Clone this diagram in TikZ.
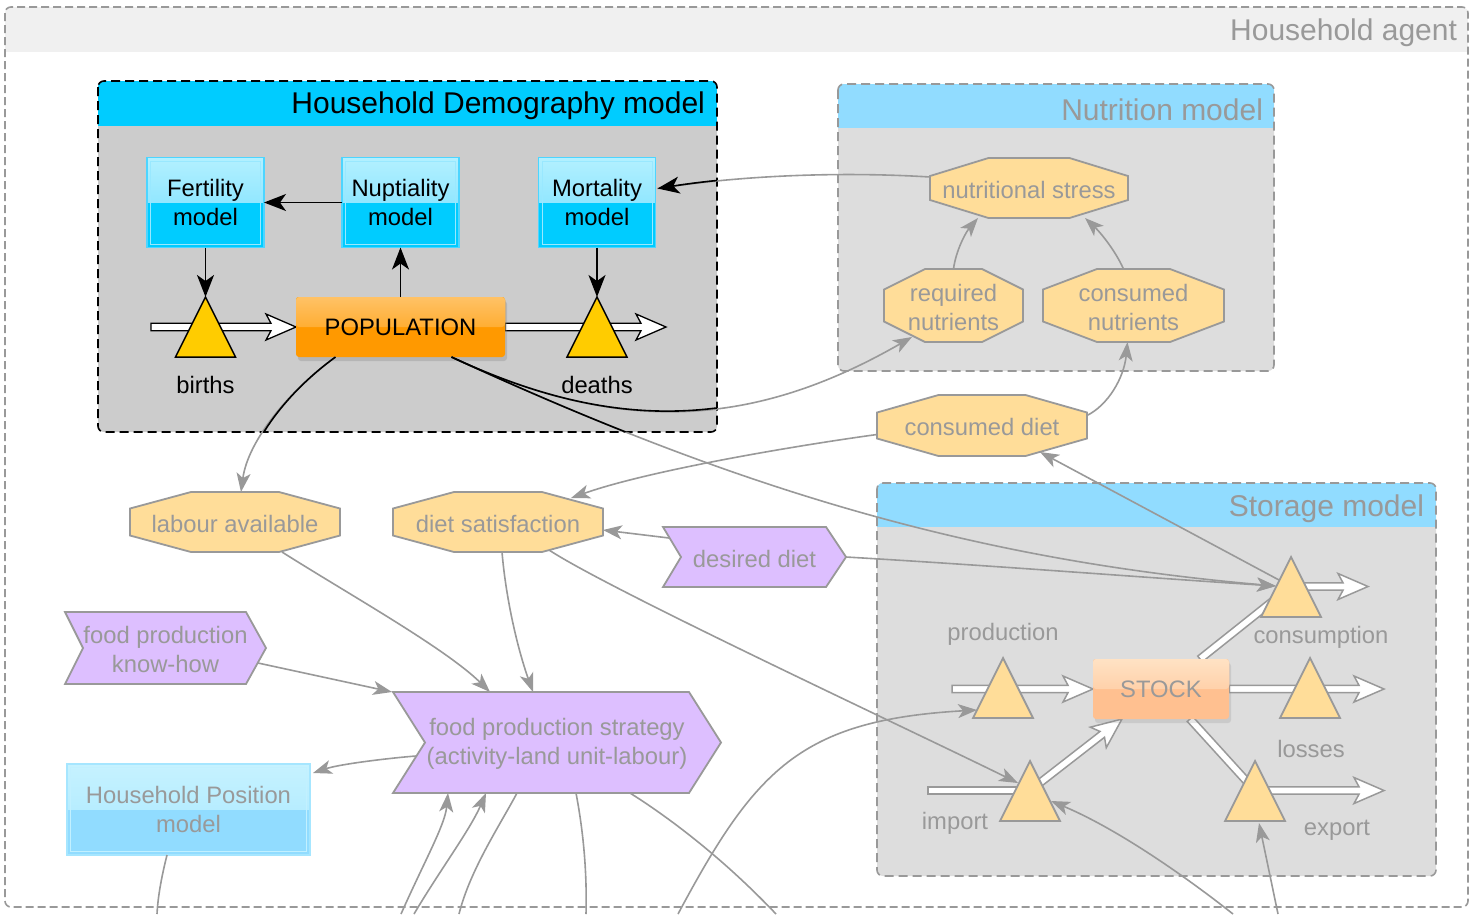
\documentclass[tikz,border=0pt]{standalone}
\usepackage{fontspec}
\setmainfont{Liberation Sans}
\usetikzlibrary{arrows.meta,calc,shadows}
\pgfdeclarelayer{bg}
\pgfdeclarelayer{pipes}
\pgfsetlayers{bg,pipes,main}

\definecolor{fg}{HTML}{999999}
\definecolor{octfill}{HTML}{FFDD99}
\definecolor{purp}{HTML}{DDBFFF}
\definecolor{hdrblue}{HTML}{91DCFF}
\definecolor{bodygray}{HTML}{DDDDDD}
\definecolor{demohdr}{HTML}{00CCFF}
\definecolor{demobody}{HTML}{CCCCCC}
\definecolor{agenthdr}{HTML}{F0F0F0}
\definecolor{cyanA}{HTML}{B3F0FF}
\definecolor{cyanM}{HTML}{70DEFF}
\definecolor{cyanB}{HTML}{00CCFF}
\definecolor{cyanEdge}{HTML}{4DD5FF}
\definecolor{cyanIn}{HTML}{99E8FF}
\definecolor{hpA}{HTML}{C6F2FF}
\definecolor{hpM}{HTML}{A8E8FF}
\definecolor{hpB}{HTML}{91DCFF}
\definecolor{hpEdge}{HTML}{A6E6FF}
\definecolor{hpIn}{HTML}{C2F0FF}
\definecolor{orangeA}{HTML}{FF9900}
\definecolor{orangeHi}{HTML}{FFC266}
\definecolor{peach}{HTML}{FFC090}
\definecolor{peachHi}{HTML}{FFE2C4}
\definecolor{triY}{HTML}{FFCC00}

\tikzset{
  every node/.style={font=\fontsize{23.8pt}{29pt}\selectfont, inner sep=0pt, outer sep=0pt},
  gtext/.style={text=fg, yshift=-1.5pt},
  ttl/.style={font=\fontsize{30pt}{36pt}\selectfont, anchor=east},
  octframe/.style={inner sep=0pt, outer sep=0pt},
  conn/.style={draw=fg, line width=1.6pt, -{Stealth[length=19pt,width=14pt,inset=5pt]}},
  bconn/.style={draw=black, line width=1.6pt, -{Stealth[length=22pt,width=17pt,inset=6pt]}},
  gline/.style={draw=fg, line width=1.6pt},
  bline/.style={draw=black, line width=1.6pt},
  octo/.style={fill=octfill, draw=fg, line width=1.8pt},
  chev/.style={fill=purp, draw=fg, line width=1.8pt},
  bpipe/.style={draw=black, fill=white, line width=1.3pt},
  gpipe/.style={draw=fg, fill=white, line width=1.5pt},
  bvalve/.style={fill=triY, draw=black, line width=1.5pt},
  gvalve/.style={fill=octfill, draw=fg, line width=1.8pt},
  cyanbox/.style={draw=cyanEdge, line width=1.5pt, fill=cyanB, minimum width=117pt, minimum height=90pt, align=center,
    path picture={\fill[top color=cyanA, bottom color=cyanM] (path picture bounding box.north west) rectangle (path picture bounding box.east);
      \draw[cyanIn, line width=1pt] ($(path picture bounding box.north west)+(3.5,3.5)$) rectangle ($(path picture bounding box.south east)+(-3.5,-3.5)$);}},
  hpbox/.style={draw=hpEdge, line width=1.5pt, fill=hpB, text=fg, minimum width=243pt, minimum height=91pt, align=center,
    path picture={\fill[top color=hpA, bottom color=hpM] (path picture bounding box.north west) rectangle (path picture bounding box.east);
      \draw[hpIn, line width=1pt] ($(path picture bounding box.north west)+(3.5,3.5)$) rectangle ($(path picture bounding box.south east)+(-3.5,-3.5)$);}},
  popbox/.style={fill=orangeA, rounded corners=3pt, minimum width=209pt, minimum height=60pt,
    drop shadow={opacity=0.3, shadow xshift=2pt, shadow yshift=-4pt},
    path picture={\fill[top color=orangeHi, bottom color=orangeA] (path picture bounding box.north west) rectangle (path picture bounding box.east);}},
  stockbox/.style={fill=peach, rounded corners=3pt, minimum width=136pt, minimum height=60pt, text=fg,
    drop shadow={opacity=0.2, shadow xshift=2pt, shadow yshift=-4pt},
    path picture={\fill[top color=peachHi, bottom color=peach] (path picture bounding box.north west) rectangle (path picture bounding box.east);}},
}

% octagon drawn round an empty frame node: name, half top edge, half side edge
\newcommand\octag[3]{\draw[octo] ($(#1.north)+(-#2,0)$) -- ($(#1.north)+(#2,0)$) -- ($(#1.east)+(0,-#3)$) -- ($(#1.east)+(0,#3)$) -- ($(#1.south)+(#2,0)$) -- ($(#1.south)+(-#2,0)$) -- ($(#1.west)+(0,#3)$) -- ($(#1.west)+(0,-#3)$) -- cycle;}
% chevron: name, tip depth, notch depth
\newcommand\chevr[3]{\draw[chev] (#1.north west) -- ($(#1.north east)+(-#2,0)$) -- (#1.east) -- ($(#1.south east)+(-#2,0)$) -- (#1.south west) -- ($(#1.west)+(#3,0)$) -- cycle;}
% valve triangle: name, apex x, apex y, style
\newcommand\valve[4]{\coordinate (#1) at (#2,#3); \draw[#4] (#1) -- ++(30,60) -- ++(-60,0) -- cycle;}
% flow pipes
\newcommand\pipegeom[2]{\path let \p1=(#1), \p2=(#2), \n1={atan2(\y2-\y1,\x2-\x1)}, \n2={veclen(\x2-\x1,\y2-\y1)} in
  \pgfextra{\xdef\pipeang{\n1}\xdef\pipelen{\n2}\xdef\pipex{\x1}\xdef\pipey{\y1}};}
\newcommand\fpipe[3]{\pipegeom{#2}{#3}%
  \path[#1, shift={(\pipex,\pipey)}, rotate=\pipeang]
   (0pt,3.7pt) -- ({\pipelen-25pt},3.7pt) -- ({\pipelen-30pt},13pt) -- ({\pipelen+0pt},0pt) -- ({\pipelen-30pt},-13pt) -- ({\pipelen-25pt},-3.7pt) -- (0pt,-3.7pt) -- cycle;}
\newcommand\fshaft[3]{\pipegeom{#2}{#3}%
  \path[#1, shift={(\pipex,\pipey)}, rotate=\pipeang]
   (0pt,3.7pt) -- ({\pipelen+0pt},3.7pt) -- ({\pipelen+0pt},-3.7pt) -- (0pt,-3.7pt) -- cycle;}
% connectors that cross the demography panel
\newcommand\cNsMort[1]{\draw[#1] ($(ns.west)+(0,-11)$) .. controls (850,172) and (750,174) .. ($(mort.east)+(2,-14)$);}
\newcommand\cPopLab[1]{\draw[#1] ($(pop.south)+(-65,0)$) .. controls (290,390) and (248,440) .. ($(lab.north)+(6,0)$);}
\newcommand\cPopRn[1]{\draw[#1] ($(pop.south)+(51,0)$) .. controls (618,435) and (752,429) .. ($(rn.south)+(-41.5,-5)$);}
\newcommand\cPopCons[1]{\draw[#1] ($(pop.south)+(51,0)$) .. controls (740,490) and (975,560) .. ($(consV)+(-15,29)$);}

\begin{document}
\begin{tikzpicture}[x=1pt,y=-1pt]
\useasboundingbox (0,0) rectangle (1473,914);

% ---------- panels ----------
\begin{pgfonlayer}{bg}
 \fill[white] (0,0) rectangle (1473,914);
 \begin{scope}\clip[rounded corners=6pt] (5,7) rectangle (1468,907); \fill[agenthdr] (5,7) rectangle (1468,52); \end{scope}
 \draw[fg, line width=1.6pt, dash pattern=on 8pt off 4pt, rounded corners=6pt] (5,7) rectangle (1468,907);
 % demography
 \fill[demobody, rounded corners=6pt] (98,81) rectangle (717,432);
 \begin{scope}\clip[rounded corners=6pt] (98,81) rectangle (717,432); \fill[demohdr] (98,81) rectangle (717,126); \end{scope}
 \draw[black, line width=1.6pt, dash pattern=on 9pt off 5pt, rounded corners=6pt] (98,81) rectangle (717,432);
 % nutrition
 \fill[bodygray, rounded corners=6pt] (838,84) rectangle (1274,371);
 \begin{scope}\clip[rounded corners=6pt] (838,84) rectangle (1274,371); \fill[hdrblue] (838,84) rectangle (1274,128); \end{scope}
 \draw[fg, line width=1.6pt, dash pattern=on 9pt off 5pt, rounded corners=6pt] (838,84) rectangle (1274,371);
 % storage
 \fill[bodygray, rounded corners=6pt] (877,483) rectangle (1436,876);
 \begin{scope}\clip[rounded corners=6pt] (877,483) rectangle (1436,876); \fill[hdrblue] (877,483) rectangle (1436,527); \end{scope}
 \draw[fg, line width=1.6pt, dash pattern=on 9pt off 5pt, rounded corners=6pt] (877,483) rectangle (1436,876);
\end{pgfonlayer}

% ---------- titles ----------
\node[ttl, text=fg] (tAgent) at (1457,33) {Household agent};
\node[ttl] (tDemo) at (705,106) {Household Demography model};
\node[ttl, text=fg] (tNut) at (1263,110) {Nutrition model};
\node[ttl, text=fg] (tSto) at (1424,509) {Storage model};

% ---------- demography ----------
\node[cyanbox] (fert) at (205.5,202.5) {Fertility\\model};
\node[cyanbox] (nupt) at (400.5,202.5) {Nuptiality\\model};
\node[cyanbox] (mort) at (597,202.5) {Mortality\\model};
\node[popbox] (pop) at (400.5,327) {POPULATION};
\valve{birthsV}{205.5}{297}{bvalve}
\valve{deathsV}{597}{297}{bvalve}
\node (lBirths) at (205.5,385) {births};
\node (lDeaths) at (597,385) {deaths};

% ---------- nutrition ----------
\node[octframe, minimum width=198pt, minimum height=60pt] (ns) at (1029,188) {};
\octag{ns}{40.5}{12}
\node[gtext] (ns-t) at (ns) {nutritional stress};
\node[octframe, minimum width=139pt, minimum height=73pt] (rn) at (953.5,305.5) {};
\octag{rn}{28.5}{16}
\node[gtext, align=center] (rn-t) at (rn) {required\\nutrients};
\node[octframe, minimum width=181pt, minimum height=73pt] (cn) at (1133.5,305.5) {};
\octag{cn}{36.5}{16}
\node[gtext, align=center] (cn-t) at (cn) {consumed\\nutrients};

% ---------- middle ----------
\node[octframe, minimum width=210pt, minimum height=61pt] (cd) at (982,425.5) {};
\octag{cd}{43.5}{13}
\node[gtext] (cd-t) at (cd) {consumed diet};
\node[octframe, minimum width=210pt, minimum height=60pt] (ds) at (498,522) {};
\octag{ds}{44}{13.5}
\node[gtext] (ds-t) at (ds) {diet satisfaction};
\node[octframe, minimum width=210pt, minimum height=60pt] (lab) at (235,522) {};
\octag{lab}{44}{13.5}
\node[gtext] (lab-t) at (lab) {labour available};
\node[octframe, minimum width=183pt, minimum height=60pt] (dd) at (754.5,557) {};
\chevr{dd}{20}{18}
\node[gtext] (dd-t) at (dd) {desired diet};
\node[octframe, minimum width=201pt, minimum height=72pt] (kh) at (165.5,648) {};
\chevr{kh}{20}{18}
\node[gtext, align=center] (kh-t) at (kh) {food production\\know-how};
\node[octframe, minimum width=328pt, minimum height=101pt] (fps) at (557,742.5) {};
\chevr{fps}{32}{32}
\node[gtext, align=center] (fps-t) at (fps) {food production strategy\\(activity-land unit-labour)};
\node[hpbox] (hp) at (188.5,809.5) {Household Position\\model};

% ---------- storage ----------
\node[stockbox] (stock) at (1161,689) {STOCK};
\valve{prodV}{1003}{658}{gvalve}
\valve{lossV}{1310}{658}{gvalve}
\valve{impV}{1030}{761}{gvalve}
\valve{expV}{1255}{761}{gvalve}
\valve{consV}{1291}{557}{gvalve}
\node[gtext] (lProd) at (1003,633) {production};
\node[gtext] (lCons) at (1321,636) {consumption};
\node[gtext] (lLoss) at (1311,747) {losses};
\node[gtext] (lImp) at (955,822) {import};
\node[gtext] (lExp) at (1337,829) {export};

% ---------- pipe end points ----------
\coordinate (bIn) at (151,327);
\coordinate (dOut) at (666,327);
\coordinate (pIn) at (952,689);
\coordinate (lOut) at (1384,689);
\coordinate (iIn) at (928,790.5);
\coordinate (iMid) at ($(impV)+(0,29.5)$);
\coordinate (stockIn) at ($(stock.south west)+(29,0)$);
\coordinate (stockOut) at ($(stock.south east)+(-39,0)$);
\coordinate (eMid) at ($(expV)+(0,29.5)$);
\coordinate (eOut) at (1384,790.5);
\coordinate (stockUp) at ($(stock.north east)+(-29,0)$);
\coordinate (cMid) at ($(consV)+(0,29.5)$);
\coordinate (cOut) at (1368,586.5);

\begin{pgfonlayer}{pipes}
 \fpipe{bpipe}{bIn}{pop.west}
 \fpipe{bpipe}{pop.east}{dOut}
 \fpipe{gpipe}{pIn}{stock.west}
 \fpipe{gpipe}{stock.east}{lOut}
 \fshaft{gpipe}{iIn}{iMid}
 \fpipe{gpipe}{iMid}{stockIn}
 \fshaft{gpipe}{stockOut}{eMid}
 \fpipe{gpipe}{eMid}{eOut}
 \fshaft{gpipe}{stockUp}{cMid}
 \fpipe{gpipe}{cMid}{cOut}
\end{pgfonlayer}

% ---------- free ends at the lower edge ----------
\coordinate (b1) at (157,914);
\coordinate (b2) at (401,914);
\coordinate (b3) at (414,914);
\coordinate (b4) at (459,914);
\coordinate (b5) at (586,914);
\coordinate (b6) at (776,914);
\coordinate (b7) at (678,914);
\coordinate (b8) at (1233,914);
\coordinate (b9) at (1278,914);

% ---------- connectors ----------
\draw[bconn] (nupt.west) -- (fert.east);
\draw[bconn] (pop.north) -- (nupt.south);
\draw[bconn] (fert.south) -- (birthsV);
\draw[bconn] (mort.south) -- (deathsV);

\cNsMort{gline}
\cPopLab{conn}
\cPopRn{conn}
\cPopCons{conn}
\begin{scope}
 \clip[rounded corners=6pt] (98,81) rectangle (717,432);
 \cNsMort{bconn}
 \cPopLab{bline}
 \cPopRn{bline}
 \cPopCons{bline}
\end{scope}

\draw[conn] (rn.north) .. controls (956,250) and (966,232) .. ($(ns.south)+(-51,0)$);
\draw[conn] ($(cn.north)+(-10,0)$) .. controls (1115,250) and (1100,232) .. ($(ns.south)+(56,0)$);
\draw[conn] ($(cd.east)+(0,-10)$) .. controls (1108,405) and (1124,378) .. ($(cn.south)+(-6,0)$);
\draw[conn] ($(cd.west)+(0,9)$) .. controls (800,445) and (650,470) .. ($(ds.north)+(73,6)$);
\draw[conn] ($(dd.west)+(6,-19)$) -- ($(ds.east)+(0,8)$);
\draw[conn] (dd.east) .. controls (1000,566) and (1150,578) .. ($(consV)+(-15,29)$);
\draw[conn] ($(consV)+(-12,23)$) -- ($(cd.south)+(58,-4)$);
\draw[conn] ($(lab.south)+(47,0)$) .. controls (350,595) and (445,648) .. ($(fps.north)+(-67,0)$);
\draw[conn] ($(ds.south)+(4,0)$) .. controls (506,600) and (518,650) .. ($(fps.north)+(-24,0)$);
\draw[conn] ($(ds.south)+(51,-2)$) .. controls (610,590) and (900,725) .. ($(impV)+(-12,22)$);
\draw[conn] ($(kh.east)+(-8,15)$) -- ($(fps.north west)+(-1,0)$);
\draw[conn] ($(fps.west)+(23,13.5)$) .. controls (390,758) and (340,764) .. ($(hp.north east)+(3,9)$);
\draw[gline] ($(hp.south)+(-21.5,0)$) .. controls (162,875) and (158,895) .. (b1);
\draw[conn] (b2) .. controls (425,860) and (445,825) .. ($(fps.south west)+(55,0)$);
\draw[conn] (b3) .. controls (440,870) and (470,830) .. ($(fps.south west)+(93,0)$);
\draw[gline] ($(fps.south west)+(124,0)$) .. controls (500,825) and (470,870) .. (b4);
\draw[gline] ($(fps.south west)+(183,0)$) .. controls (584,835) and (587,875) .. (b5);
\draw[gline] ($(fps.south west)+(237,0)$) .. controls (665,815) and (720,855) .. (b6);
\draw[conn] (b7) .. controls (755,770) and (800,720) .. ($(prodV)+(-26,52)$);
\draw[conn] (b8) .. controls (1190,880) and (1120,830) .. ($(impV)+(21,40)$);
\draw[conn] (b9) -- ($(expV)+(4,62)$);
\end{tikzpicture}
\end{document}
